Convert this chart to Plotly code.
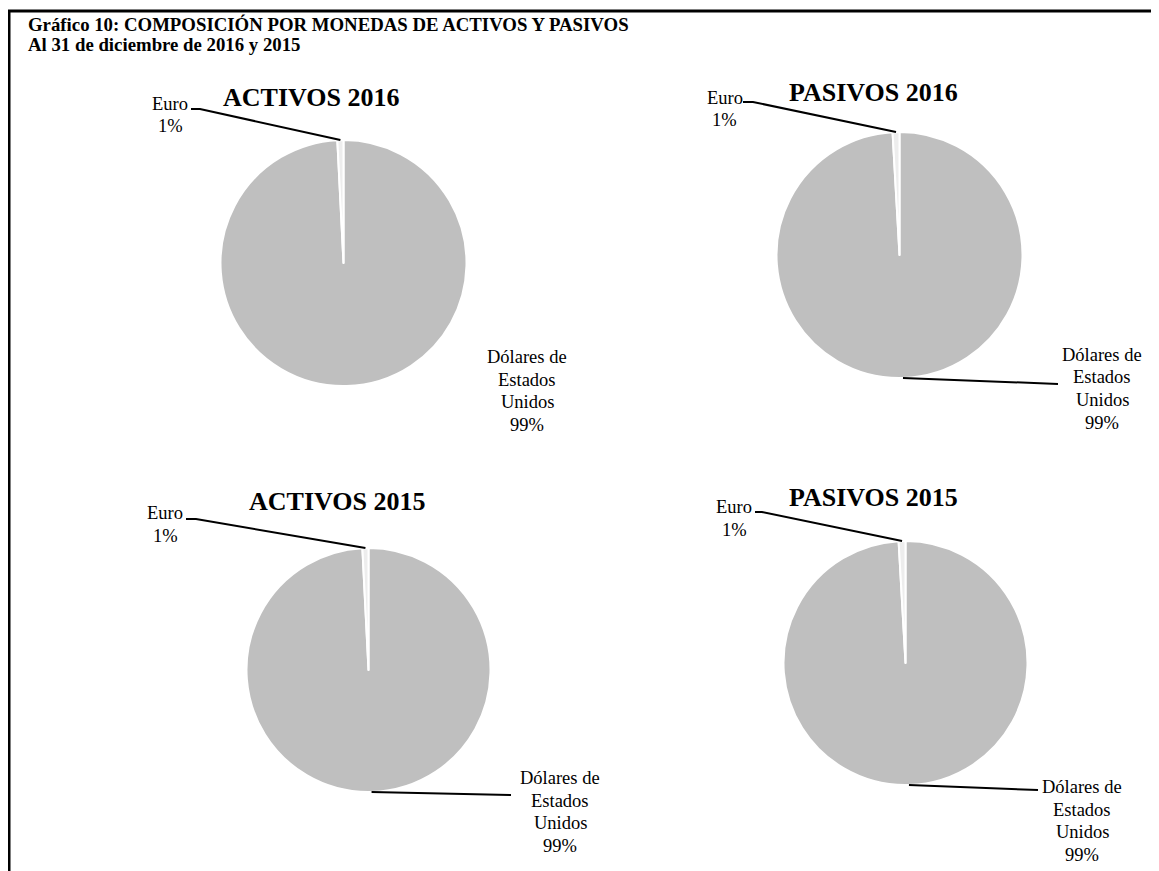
import math
import plotly.graph_objects as go

W, H = 1159, 871
OFF = 8  # page body margin in the browser

# ---- data ----
chart_titles = ["ACTIVOS 2016", "PASIVOS 2016", "ACTIVOS 2015", "PASIVOS 2015"]
currencies = ["Dólares de Estados Unidos", "Euro"]
usd_share = [99.2, 99.1, 99.2, 99.1]
eur_share = [0.8, 0.9, 0.8, 0.9]
usd_label_lines = ["Dólares de", "Estados", "Unidos"]
eur_label_lines = ["Euro"]
main_title = "Gráfico 10: COMPOSICIÓN POR MONEDAS DE ACTIVOS Y PASIVOS"
sub_title = "Al 31 de diciembre de 2016 y 2015"

# ---- layout (pixel geometry in the screenshot) ----
pie_geom = [(343.5, 263, 123), (899.5, 255, 123), (368.5, 670, 122), (905.5, 663, 122)]
title_pos = [(311, 97), (873, 93), (337, 501), (873, 498)]
eur_text_pos = [(170, 104), (725, 98), (165, 513), (734, 507)]
eur_knee = [((191, 109), (200, 109)), ((743, 102), (753, 102)),
            ((186, 519), (196, 519)), ((755, 512), (762, 512))]
usd_text_pos = [(527, 357), (1102, 355), (560, 778), (1082, 787)]
usd_line_end = [None, (1058, 384), (511, 795), (1038, 790)]
LINE_STEP = 22.5

def px(x):
    return (x - OFF) / W

def py(y):
    return 1 - (y - OFF) / H

FONT = "Liberation Serif, Times New Roman, serif"
fig = go.Figure()
shapes = []
annotations = []

def text_block(lines, x, y, size):
    for j, t in enumerate(lines):
        annotations.append(dict(x=px(x), y=py(y + j * LINE_STEP), xref="paper", yref="paper",
                                text=t, showarrow=False, xanchor="center", yanchor="middle",
                                font=dict(family=FONT, size=size, color="black")))

for i, name in enumerate(chart_titles):
    cx, cy, r = pie_geom[i]
    vals = [usd_share[i], eur_share[i]]
    fig.add_trace(go.Pie(
        labels=currencies, values=vals, sort=False, direction="clockwise", rotation=0,
        marker=dict(colors=["#BFBFBF", "#EDEDED"], line=dict(color="white", width=2)),
        textinfo="none", hoverinfo="label+percent", showlegend=False,
        domain=dict(x=[px(cx - r), px(cx + r)], y=[py(cy + r), py(cy - r)]),
    ))
    total = sum(vals)
    fu = vals[0] / total
    fe = vals[1] / total
    # title
    tx, ty = title_pos[i]
    annotations.append(dict(x=px(tx), y=py(ty), xref="paper", yref="paper", text=f"<b>{name}</b>",
                            showarrow=False, xanchor="center", yanchor="middle",
                            font=dict(family=FONT, size=26, color="black")))
    # euro label
    ex, ey = eur_text_pos[i]
    text_block(eur_label_lines + [f"{round(fe * 100)}%"], ex, ey, 18.5)
    th = 2 * math.pi * (fu + fe / 2)
    rim = (cx + r * math.sin(th), cy - r * math.cos(th))
    (k1, k2) = eur_knee[i]
    pts = [k1, k2, rim]
    path = "M " + " L ".join(f"{px(a)},{py(b)}" for a, b in pts)
    shapes.append(dict(type="path", path=path, xref="paper", yref="paper",
                       line=dict(color="black", width=2)))
    # usd label
    ux, uy = usd_text_pos[i]
    text_block(usd_label_lines + [f"{round(fu * 100)}%"], ux, uy, 18.5)
    if usd_line_end[i] is not None:
        thu = 2 * math.pi * (fu / 2)
        rimu = (cx + r * math.sin(thu), cy - r * math.cos(thu))
        ex2, ey2 = usd_line_end[i]
        shapes.append(dict(type="line", xref="paper", yref="paper",
                           x0=px(rimu[0]), y0=py(rimu[1]), x1=px(ex2), y1=py(ey2),
                           line=dict(color="black", width=2)))

# header text
annotations.append(dict(x=px(26), y=py(25), xref="paper", yref="paper", text=f"<b>{main_title}</b>",
                        showarrow=False, xanchor="left", yanchor="middle",
                        font=dict(family=FONT, size=18.8, color="black")))
annotations.append(dict(x=px(26), y=py(45), xref="paper", yref="paper", text=f"<b>{sub_title}</b>",
                        showarrow=False, xanchor="left", yanchor="middle",
                        font=dict(family=FONT, size=18.8, color="black")))

# frame (top and left)
shapes.append(dict(type="path", xref="paper", yref="paper",
                   path=f"M {px(9)},{py(H + 20)} L {px(9)},{py(11)} L {px(W + 20)},{py(11)}",
                   line=dict(color="black", width=3)))

fig.update_layout(width=W, height=H, margin=dict(l=0, r=0, t=0, b=0),
                  paper_bgcolor="white", plot_bgcolor="white",
                  shapes=shapes, annotations=annotations)

fig.write_html("out.html")
